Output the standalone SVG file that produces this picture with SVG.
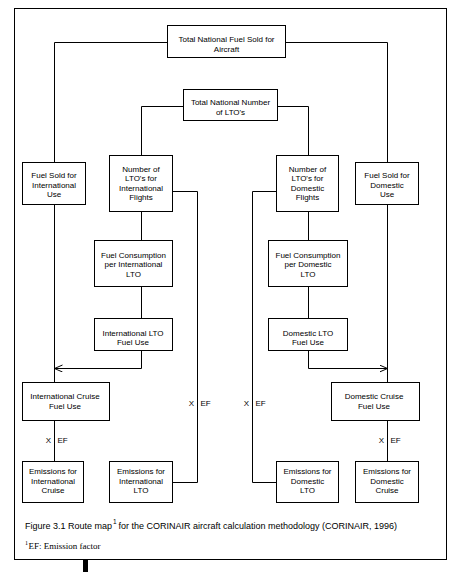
<svg xmlns="http://www.w3.org/2000/svg" width="462" height="572" viewBox="0 0 462 572">
<style>
.box{fill:#fff;stroke:#000;stroke-width:1}
.t{font-family:"Liberation Sans",Arial,sans-serif;font-size:8px;fill:#000;text-anchor:middle}
.lbl{font-family:"Liberation Sans",Arial,sans-serif;font-size:8px;fill:#000}
.c{fill:none;stroke:#000;stroke-width:1}
.cap{font-family:"Liberation Sans",Arial,sans-serif;font-size:9px;fill:#000}
.sup{font-family:"Liberation Sans",Arial,sans-serif;font-size:6.5px;fill:#000}
.fn{font-family:"Liberation Serif","Times New Roman",serif;font-size:9px;fill:#000}
.fnsup{font-family:"Liberation Serif","Times New Roman",serif;font-size:6px;fill:#000}
</style>
<defs>
<marker id="arr" markerUnits="userSpaceOnUse" markerWidth="10" markerHeight="10" refX="8" refY="3.5" orient="auto" viewBox="0 0 10 10">
<path d="M0,0 L8,3.5 L0,7" fill="none" stroke="#000" stroke-width="1"/>
</marker>
</defs>
<rect x="0" y="0" width="462" height="572" fill="#fff"/>
<rect x="14.5" y="8.5" width="432" height="551" fill="none" stroke="#000" stroke-width="1"/>
<rect x="83" y="560" width="5" height="12" fill="#000"/>

<g id="connectors">
<path class="c" d="M167.5,42.5 H54.5 V162.5"/>
<path class="c" d="M285.5,42.5 H387.5 V162.5"/>
<path class="c" d="M183.5,106.5 H141.5 V155.5"/>
<path class="c" d="M277.5,106.5 H308.5 V155.5"/>
<path class="c" d="M54.5,204.5 V382.5"/>
<path class="c" d="M141.5,211.5 V240.5"/>
<path class="c" d="M141.5,286.5 V318.5"/>
<path class="c" d="M141.5,350.5 V368.5 H54.5" marker-end="url(#arr)"/>
<path class="c" d="M172.5,191.5 H197.5 V482.5 H172.5"/>
<path class="c" d="M54.5,420.5 V461.5"/>
<path class="c" d="M387.5,204.5 V382.5"/>
<path class="c" d="M308.5,211.5 V240.5"/>
<path class="c" d="M308.5,286.5 V318.5"/>
<path class="c" d="M308.5,350.5 V368.5 H387.5" marker-end="url(#arr)"/>
<path class="c" d="M276.5,191.5 H252.5 V482.5 H276.5"/>
<path class="c" d="M387.5,420.5 V461.5"/>
<text class="lbl" y="443"><tspan x="51" text-anchor="end">X</tspan><tspan x="57.5">EF</tspan></text>
<text class="lbl" y="406"><tspan x="194" text-anchor="end">X</tspan><tspan x="200.5">EF</tspan></text>
<text class="lbl" y="406"><tspan x="249" text-anchor="end">X</tspan><tspan x="255.5">EF</tspan></text>
<text class="lbl" y="443"><tspan x="384" text-anchor="end">X</tspan><tspan x="390.5">EF</tspan></text>
</g>

<g id="total-fuel">
<rect class="box" x="167.5" y="25.5" width="118" height="32"/>
<text class="t" x="226.5" y="42">Total National Fuel Sold for</text>
<text class="t" x="226.5" y="51.5">Aircraft</text>
</g>
<g id="total-lto">
<rect class="box" x="183.5" y="89.5" width="94" height="31"/>
<text class="t" x="230.5" y="105">Total National Number</text>
<text class="t" x="230.5" y="114.5">of LTO's</text>
</g>
<g id="fuel-sold-intl">
<rect class="box" x="22.5" y="162.5" width="63" height="42"/>
<text class="t" x="54" y="178">Fuel Sold for</text>
<text class="t" x="54" y="187.5">International</text>
<text class="t" x="54" y="197">Use</text>
</g>
<g id="lto-intl">
<rect class="box" x="109.5" y="155.5" width="63" height="56"/>
<text class="t" x="141" y="171.5">Number of</text>
<text class="t" x="141" y="181">LTO's for</text>
<text class="t" x="141" y="190.5">International</text>
<text class="t" x="141" y="200">Flights</text>
</g>
<g id="cons-intl">
<rect class="box" x="94.5" y="240.5" width="78" height="46"/>
<text class="t" x="133.5" y="257.5">Fuel Consumption</text>
<text class="t" x="133.5" y="267">per International</text>
<text class="t" x="133.5" y="276.5">LTO</text>
</g>
<g id="lto-fuel-intl">
<rect class="box" x="94.5" y="318.5" width="78" height="32"/>
<text class="t" x="133" y="336">International LTO</text>
<text class="t" x="133" y="345">Fuel Use</text>
</g>
<g id="cruise-intl">
<rect class="box" x="22.5" y="382.5" width="87" height="38"/>
<text class="t" x="65" y="399">International Cruise</text>
<text class="t" x="65" y="408.5">Fuel Use</text>
</g>
<g id="em-cruise-intl">
<rect class="box" x="22.5" y="461.5" width="61" height="41"/>
<text class="t" x="53" y="474">Emissions for</text>
<text class="t" x="53" y="483.5">International</text>
<text class="t" x="53" y="493">Cruise</text>
</g>
<g id="em-lto-intl">
<rect class="box" x="109.5" y="461.5" width="63" height="41"/>
<text class="t" x="141" y="474">Emissions for</text>
<text class="t" x="141" y="483.5">International</text>
<text class="t" x="141" y="493">LTO</text>
</g>
<g id="lto-dom">
<rect class="box" x="276.5" y="155.5" width="62" height="56"/>
<text class="t" x="307.5" y="171.5">Number of</text>
<text class="t" x="307.5" y="181">LTO's for</text>
<text class="t" x="307.5" y="190.5">Domestic</text>
<text class="t" x="307.5" y="200">Flights</text>
</g>
<g id="fuel-sold-dom">
<rect class="box" x="355.5" y="162.5" width="63" height="42"/>
<text class="t" x="387" y="178">Fuel Sold for</text>
<text class="t" x="387" y="187.5">Domestic</text>
<text class="t" x="387" y="197">Use</text>
</g>
<g id="cons-dom">
<rect class="box" x="268.5" y="240.5" width="79" height="46"/>
<text class="t" x="308" y="257.5">Fuel Consumption</text>
<text class="t" x="308" y="267">per Domestic</text>
<text class="t" x="308" y="276.5">LTO</text>
</g>
<g id="lto-fuel-dom">
<rect class="box" x="268.5" y="318.5" width="79" height="32"/>
<text class="t" x="308" y="336">Domestic LTO</text>
<text class="t" x="308" y="345">Fuel Use</text>
</g>
<g id="cruise-dom">
<rect class="box" x="331.5" y="382.5" width="88" height="38"/>
<text class="t" x="374" y="399">Domestic Cruise</text>
<text class="t" x="374" y="408.5">Fuel Use</text>
</g>
<g id="em-lto-dom">
<rect class="box" x="276.5" y="461.5" width="62" height="41"/>
<text class="t" x="307.5" y="474">Emissions for</text>
<text class="t" x="307.5" y="483.5">Domestic</text>
<text class="t" x="307.5" y="493">LTO</text>
</g>
<g id="em-cruise-dom">
<rect class="box" x="355.5" y="461.5" width="63" height="41"/>
<text class="t" x="387" y="474">Emissions for</text>
<text class="t" x="387" y="483.5">Domestic</text>
<text class="t" x="387" y="493">Cruise</text>
</g>

<g id="caption">
<text class="cap" x="25" y="529">Figure 3.1 Route map</text>
<text class="sup" x="113" y="524">1</text>
<text class="cap" x="118.5" y="529">for the CORINAIR aircraft calculation methodology (CORINAIR, 1996)</text>
<text class="fnsup" x="25" y="545">1</text>
<text class="fn" x="28.5" y="548.5">EF: Emission factor</text>
</g>
</svg>
